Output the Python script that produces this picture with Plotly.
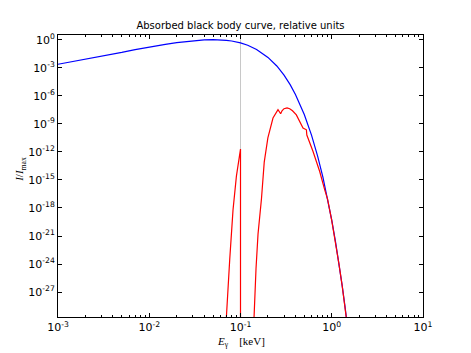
import plotly.graph_objects as go

# Blue: black body curve (E in keV, log10 of I/Imax)
bb_E = [0.001, 0.0015, 0.002, 0.003, 0.005, 0.007, 0.01, 0.015, 0.02, 0.03, 0.04, 0.05,
        0.06, 0.07, 0.08, 0.1, 0.12, 0.15, 0.2, 0.25, 0.3, 0.35, 0.4, 0.45, 0.5, 0.6,
        0.7, 0.8, 0.9, 1.0, 1.1, 1.2, 1.3, 1.4, 1.5]
bb_logI = [-2.63, -2.32, -2.06, -1.74, -1.36, -1.06, -0.78, -0.50, -0.32, -0.12, -0.03, 0.0,
           -0.02, -0.07, -0.14, -0.34, -0.59, -1.04, -1.90, -2.81, -3.79, -4.81, -5.86, -6.92,
           -8.0, -10.21, -12.45, -14.71, -17.0, -19.3, -21.62, -23.95, -26.28, -28.6, -31.0]

# Red: absorbed curve (E in keV, log10 of I/Imax); -40 = effectively zero
abs_E = [0.0695, 0.0700, 0.0762, 0.0828, 0.0902, 0.0979, 0.1000, 0.1000, 0.1380,
         0.1390, 0.1406, 0.1479, 0.1556, 0.1698, 0.1820, 0.1995, 0.2270, 0.2576, 0.2754,
         0.2851, 0.2999, 0.3236, 0.3459, 0.3715, 0.4093, 0.4467, 0.4842, 0.5272, 0.5297,
         0.5333, 0.6237, 0.7379, 0.8375, 0.9, 1.0, 1.1, 1.2, 1.3, 1.4, 1.5]
abs_logI = [-31.0, -29.7, -23.5, -18.2, -14.6, -12.5, -11.7, -40.0, -40.0,
            -31.0, -29.7, -24.5, -20.8, -17.0, -13.1, -10.5, -8.38, -7.49, -7.92,
            -7.6, -7.38, -7.30, -7.38, -7.6, -8.05, -8.75, -9.46, -9.64, -10.17,
            -10.2, -11.96, -14.1, -16.06, -17.05, -19.35, -21.65, -24.0, -26.3, -28.6, -31.0]

x_ticks = [0.001, 0.01, 0.1, 1, 10]
x_ticktext = ["10<sup>-3</sup>", "10<sup>-2</sup>", "10<sup>-1</sup>", "10<sup>0</sup>", "10<sup>1</sup>"]
y_exps = [0, -3, -6, -9, -12, -15, -18, -21, -24, -27]

bb_I = [10 ** v for v in bb_logI]
abs_I = [10 ** v for v in abs_logI]

minor_x = [m * 10 ** d for d in range(-3, 1) for m in range(2, 10)]

fig = go.Figure()
fig.add_trace(go.Scatter(x=bb_E, y=bb_I, mode="lines", line=dict(color="#0000ff", width=1.2),
                         showlegend=False, hoverinfo="skip"))
fig.add_trace(go.Scatter(x=abs_E, y=abs_I, mode="lines", line=dict(color="#ff0000", width=1.2),
                         showlegend=False, hoverinfo="skip"))

fig.add_shape(type="line", x0=0.1, x1=0.1, xref="x", y0=0, y1=1, yref="paper",
              line=dict(color="#c8c8c8", width=1), layer="below")

axis_common = dict(showgrid=False, zeroline=False, showline=True, linecolor="black",
                   linewidth=1, mirror="ticks", ticks="inside", tickcolor="black",
                   ticklen=4, tickwidth=1,
                   tickfont=dict(family="DejaVu Sans", size=11, color="black"))

fig.update_xaxes(type="log", range=[-3, 1], tickvals=x_ticks, ticktext=x_ticktext,
                 minor=dict(tickvals=minor_x, ticks="inside", ticklen=2, tickcolor="black"),
                 **axis_common)
fig.update_yaxes(type="log", range=[-29.66, 0.5], tickvals=[10 ** e for e in y_exps],
                 ticktext=["10<sup>%d</sup>" % e for e in y_exps], **axis_common)

fig.update_layout(
    width=471, height=353,
    margin=dict(l=58, r=48, t=35, b=36),
    paper_bgcolor="white", plot_bgcolor="white",
    title=dict(text="Absorbed black body curve, relative units", x=0.5, xref="paper",
               xanchor="center", y=1 - 25 / 353, yanchor="middle",
               font=dict(family="DejaVu Sans", size=10, color="black")),
    annotations=[
        dict(text="<i>E</i><sub>γ</sub>    [keV]", xref="paper", yref="paper", x=0.5, y=-0.088,
             xanchor="center", yanchor="middle", showarrow=False,
             font=dict(family="Liberation Serif", size=11, color="black")),
        dict(text="<i>I</i>/<i>I</i><sub>max</sub>", xref="paper", yref="paper", x=-0.104, y=0.522,
             xanchor="center", yanchor="middle", showarrow=False, textangle=-90,
             font=dict(family="Liberation Serif", size=11, color="black")),
    ],
)

fig.write_html("out.html", config={"displayModeBar": False},
               post_script="document.body.style.margin='0px';")
